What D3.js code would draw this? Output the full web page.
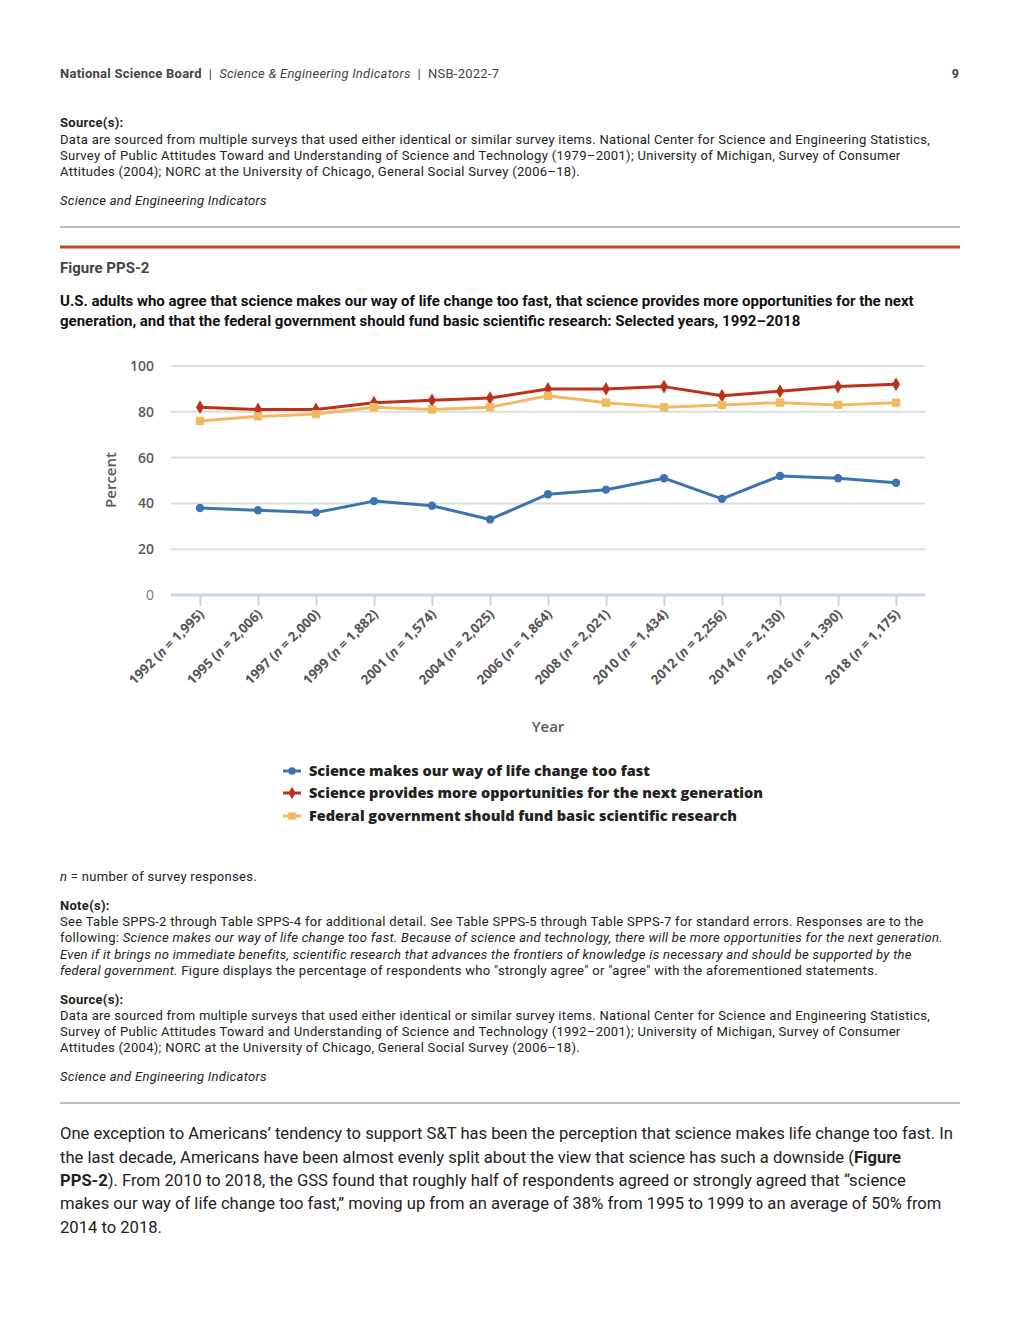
<!DOCTYPE html>
<html>
<head>
<meta charset="utf-8">
<script src="https://cdn.jsdelivr.net/npm/d3@7"></script>
<style>
  body { margin: 0; background: #fff; }
  svg { display: block; }
  .pg { font-family: Roboto, "Noto Sans", sans-serif; fill: #222; }
  .ch { font-family: "Open Sans", "Noto Sans", sans-serif; }
</style>
</head>
<body>
<svg id="page" width="1020" height="1320"></svg>
<script>
// survey years and sample sizes
var years = ["1992", "1995", "1997", "1999", "2001", "2004", "2006", "2008", "2010", "2012", "2014", "2016", "2018"];
var sampleN = ["1,995", "2,006", "2,000", "1,882", "1,574", "2,025", "1,864", "2,021", "1,434", "2,256", "2,130", "1,390", "1,175"];

// percent agreeing
var tooFast = [38, 37, 36, 41, 39, 33, 44, 46, 51, 42, 52, 51, 49];
var opportunities = [82, 81, 81, 84, 85, 86, 90, 90, 91, 87, 89, 91, 92];
var fundResearch = [76, 78, 79, 82, 81, 82, 87, 84, 82, 83, 84, 83, 84];

var yTicks = [0, 20, 40, 60, 80, 100];

var seriesNames = [
  "Science makes our way of life change too fast",
  "Science provides more opportunities for the next generation",
  "Federal government should fund basic scientific research"
];

var series = [
  { name: seriesNames[0], values: tooFast, color: "#3b74ae", symbol: d3.symbolCircle, size: 55 },
  { name: seriesNames[1], values: opportunities, color: "#bb3219", symbol: d3.symbolDiamond, size: 55 },
  { name: seriesNames[2], values: fundResearch, color: "#f1b964", symbol: d3.symbolSquare, size: 70 }
];

var svg = d3.select("#page");

var SMALL = 13;

// ---------- page text helpers ----------
function line(y, parts, size, spacing) {
  var t = svg.append("text").attr("class", "pg").attr("x", 60).attr("y", y)
    .style("font-size", size + "px")
    .style("letter-spacing", spacing ? spacing + "px" : null);
  parts.forEach(function (p) {
    if (typeof p === "string") p = { t: p };
    t.append("tspan").text(p.t)
      .style("font-style", p.i ? "italic" : null)
      .style("font-weight", p.b ? "700" : null);
  });
  return t;
}
function small(y, parts) { return line(y, parts, SMALL, 0.3); }

// header
var hdr = line(78, [{ t: "National Science Board", b: true }, "  |  ", { t: "Science & Engineering Indicators", i: true }, "  |  NSB-2022-7"], 13, 0.25);
hdr.style("fill", "#444").attr("xml:space", "preserve");
svg.append("text").attr("class", "pg").attr("x", 959).attr("y", 78).attr("text-anchor", "end")
  .style("font-size", "12.5px").style("font-weight", "700").style("fill", "#444").text("9");

// top sources block (tail of previous figure)
small(127, [{ t: "Source(s):", b: true }]);
small(144, ["Data are sourced from multiple surveys that used either identical or similar survey items. National Center for Science and Engineering Statistics,"]);
small(160, ["Survey of Public Attitudes Toward and Understanding of Science and Technology (1979\u20132001); University of Michigan, Survey of Consumer"]);
small(176, ["Attitudes (2004); NORC at the University of Chicago, General Social Survey (2006\u201318)."]);
small(205, [{ t: "Science and Engineering Indicators", i: true }]);

svg.append("line").attr("x1", 60).attr("x2", 960).attr("y1", 227).attr("y2", 227)
  .attr("stroke", "#bdbdbd").attr("stroke-width", 2);
svg.append("line").attr("x1", 60).attr("x2", 960).attr("y1", 247).attr("y2", 247)
  .attr("stroke", "#c0462e").attr("stroke-width", 3);

line(273, [{ t: "Figure PPS-2", b: true }], 15).style("fill", "#444");
line(306, [{ t: "U.S. adults who agree that science makes our way of life change too fast, that science provides more opportunities for the next", b: true }], 15).style("fill", "#111");
line(326, [{ t: "generation, and that the federal government should fund basic scientific research: Selected years, 1992\u20132018", b: true }], 15).style("fill", "#111");

// ---------- chart ----------
var x = d3.scalePoint().domain(years).range([171, 925]).padding(0.5);
var y = d3.scaleLinear().domain([0, 100]).range([595, 366]);

var chart = svg.append("g").attr("class", "ch");

chart.append("g").selectAll("line.grid")
  .data(yTicks.filter(function (d) { return d > 0; }))
  .enter().append("line")
  .attr("x1", 171).attr("x2", 925)
  .attr("y1", function (d) { return y(d); }).attr("y2", function (d) { return y(d); })
  .attr("stroke", "#dcdcdc").attr("stroke-width", 2);

// y axis labels via d3 axis, without line
var yAxis = chart.append("g").attr("transform", "translate(160,0)")
  .call(d3.axisLeft(y).tickValues(yTicks).tickSize(0).tickPadding(6));
yAxis.select(".domain").remove();
yAxis.selectAll("text")
  .style("font-family", "'Open Sans', sans-serif").style("font-size", "14px")
  .style("font-weight", "600").style("fill", "#5a5a5a");
yAxis.selectAll("text").filter(function (d) { return d === 0; })
  .style("font-weight", "400").style("fill", "#777");

// x axis
var xAxis = chart.append("g").attr("transform", "translate(0," + y(0) + ")")
  .call(d3.axisBottom(x).tickSize(11).tickFormat(""));
xAxis.select(".domain").attr("d", "M171,0H925").attr("stroke", "#cad4e7").attr("stroke-width", 3);
xAxis.selectAll(".tick line").attr("stroke", "#cad4e7").attr("stroke-width", 2);

chart.append("g").selectAll("text.xl")
  .data(years)
  .enter().append("text")
  .attr("transform", function (d) { return "translate(" + (x(d) + 5) + "," + (y(0) + 20) + ") rotate(-45)"; })
  .attr("text-anchor", "end")
  .style("font-size", "13.3px").style("font-weight", "700").style("fill", "#555")
  .each(function (d, i) {
    var t = d3.select(this);
    t.append("tspan").text(d + " (");
    t.append("tspan").style("font-style", "italic").text("n");
    t.append("tspan").text(" = " + sampleN[i] + ")");
  });

chart.append("text").attr("x", 548).attr("y", 732).attr("text-anchor", "middle")
  .style("font-size", "15px").style("font-weight", "600").style("fill", "#5a5a5a").text("Year");
chart.append("text").attr("transform", "translate(116,480) rotate(-90)").attr("text-anchor", "middle")
  .style("font-size", "15px").style("font-weight", "600").style("fill", "#5a5a5a").text("Percent");

var lineGen = d3.line()
  .x(function (d, i) { return x(years[i]); })
  .y(function (d) { return y(d); });

series.forEach(function (s) {
  var g = chart.append("g");
  g.append("path").datum(s.values).attr("d", lineGen)
    .attr("fill", "none").attr("stroke", s.color).attr("stroke-width", 3)
    .attr("stroke-linejoin", "round");
  g.selectAll("path.pt").data(s.values).enter().append("path")
    .attr("class", "pt")
    .attr("transform", function (d, i) { return "translate(" + x(years[i]) + "," + y(d) + ")"; })
    .attr("d", d3.symbol().type(s.symbol).size(s.size))
    .attr("fill", s.color);
});

// legend
var legend = chart.append("g").selectAll("g").data(series).enter().append("g")
  .attr("transform", function (d, i) { return "translate(283," + [771, 793, 816][i] + ")"; });
legend.append("line").attr("x1", 0).attr("x2", 18).attr("stroke", function (d) { return d.color; })
  .attr("stroke-width", 3);
legend.append("path").attr("transform", "translate(9,0)")
  .attr("d", function (d) { return d3.symbol().type(d.symbol).size(d.size * 0.8)(); })
  .attr("fill", function (d) { return d.color; });
legend.append("text").attr("x", 26).attr("y", 5)
  .style("font-size", "14.5px").style("font-weight", "800").style("fill", "#222")
  .text(function (d) { return d.name; });

// ---------- notes below ----------
small(881, [{ t: "n", i: true }, " = number of survey responses."]);
small(910, [{ t: "Note(s):", b: true }]);
small(926, ["See Table SPPS-2 through Table SPPS-4 for additional detail. See Table SPPS-5 through Table SPPS-7 for standard errors. Responses are to the"]);
small(942, ["following: ", { t: "Science makes our way of life change too fast. Because of science and technology, there will be more opportunities for the next generation.", i: true }]);
small(959, [{ t: "Even if it brings no immediate benefits, scientific research that advances the frontiers of knowledge is necessary and should be supported by the", i: true }]);
small(975, [{ t: "federal government.", i: true }, " Figure displays the percentage of respondents who \"strongly agree\" or \"agree\" with the aforementioned statements."]);
small(1004, [{ t: "Source(s):", b: true }]);
small(1020, ["Data are sourced from multiple surveys that used either identical or similar survey items. National Center for Science and Engineering Statistics,"]);
small(1036, ["Survey of Public Attitudes Toward and Understanding of Science and Technology (1992\u20132001); University of Michigan, Survey of Consumer"]);
small(1052, ["Attitudes (2004); NORC at the University of Chicago, General Social Survey (2006\u201318)."]);
small(1081, [{ t: "Science and Engineering Indicators", i: true }]);

svg.append("line").attr("x1", 60).attr("x2", 960).attr("y1", 1103).attr("y2", 1103)
  .attr("stroke", "#bdbdbd").attr("stroke-width", 2);

line(1139, ["One exception to Americans\u2019 tendency to support S&T has been the perception that science makes life change too fast. In"], 16.6);
line(1163, ["the last decade, Americans have been almost evenly split about the view that science has such a downside (", { t: "Figure", b: true }], 16.6);
line(1186, [{ t: "PPS-2", b: true }, "). From 2010 to 2018, the GSS found that roughly half of respondents agreed or strongly agreed that \u201cscience"], 16.6);
line(1209, ["makes our way of life change too fast,\u201d moving up from an average of 38% from 1995 to 1999 to an average of 50% from"], 16.6);
line(1233, ["2014 to 2018."], 16.6);
</script>
</body>
</html>
